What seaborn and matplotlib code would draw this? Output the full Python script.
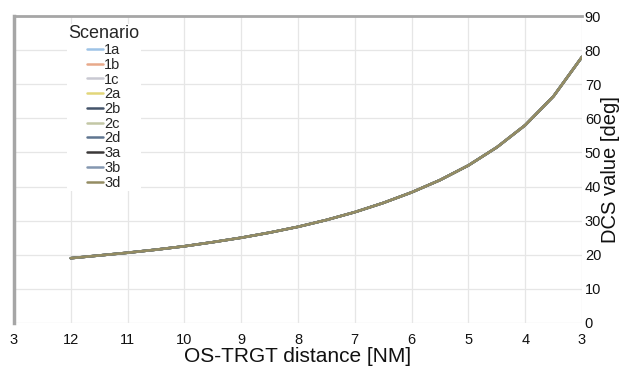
import pandas as pd
import matplotlib.pyplot as plt
import seaborn as sns

# distance to target [NM] and DCS value [deg]
distance = [12, 11.5, 11, 10.5, 10, 9.5, 9, 8.5, 8, 7.5, 7, 6.5, 6, 5.5, 5, 4.5, 4, 3.5, 3]
dcs = [19.0, 19.8, 20.6, 21.5, 22.5, 23.7, 25.0, 26.5, 28.2, 30.2, 32.5, 35.2,
       38.3, 41.9, 46.2, 51.5, 58.0, 66.5, 78.0]

scenarios = ['1a', '1b', '1c', '2a', '2b', '2c', '2d', '3a', '3b', '3d']
colors = ['#9dc3e6', '#e8a98a', '#c9c9d2', '#e2d67a', '#44546a', '#c3c7a5',
          '#5f7590', '#3b3838', '#8497b0', '#948c62']

xticks = [13, 12, 11, 10, 9, 8, 7, 6, 5, 4, 3]
xtick_labels = ['3', '12', '11', '10', '9', '8', '7', '6', '5', '4', '3']

# all scenarios give the same curve
df = pd.concat([pd.DataFrame({'distance': distance, 'dcs': dcs, 'Scenario': s})
                for s in scenarios], ignore_index=True)

sns.set_style('white')
plt.rcParams['font.family'] = ['Liberation Sans', 'DejaVu Sans']

fig = plt.figure(figsize=(6.39, 3.72), dpi=100)
ax = fig.add_axes([14 / 639, 1 - 323 / 372, 568 / 639, 307 / 372])

sns.lineplot(data=df, x='distance', y='dcs', hue='Scenario', palette=colors,
             hue_order=scenarios, linewidth=1.8, ax=ax)

ax.set_xlim(13, 3)
ax.set_ylim(0, 90)
ax.set_xticks(xticks)
ax.set_xticklabels(xtick_labels)
ax.set_yticks(range(0, 91, 10))
ax.yaxis.tick_right()
ax.yaxis.set_label_position('right')
ax.tick_params(axis='both', length=0, labelsize=10.5, colors='#111111')
ax.tick_params(axis='x', pad=7)
ax.tick_params(axis='y', pad=2)

ax.grid(True, color='#e6e6e6', linewidth=0.9)
ax.set_axisbelow(True)

for side in ['right', 'bottom']:
    ax.spines[side].set_visible(False)
ax.spines['left'].set_color('#a6a6a6')
ax.spines['left'].set_linewidth(2.5)
ax.spines['top'].set_color('#a6a6a6')
ax.spines['top'].set_linewidth(2)

ax.set_xlabel('OS-TRGT distance [NM]', fontsize=15, labelpad=0, color='#111111')
ax.set_ylabel('DCS value [deg]', fontsize=14.5, labelpad=0, color='#111111')

leg = ax.legend(title='Scenario', loc='upper left', bbox_to_anchor=(0.08, 0.998),
                frameon=True, fontsize=10.5, title_fontsize=13, handlelength=1.1,
                handletextpad=0.1, labelspacing=0.05, borderpad=0.1)
leg.get_frame().set_edgecolor('none')
leg.get_frame().set_facecolor('white')
leg.get_frame().set_alpha(1)

fig.savefig('out.png', dpi=100)
